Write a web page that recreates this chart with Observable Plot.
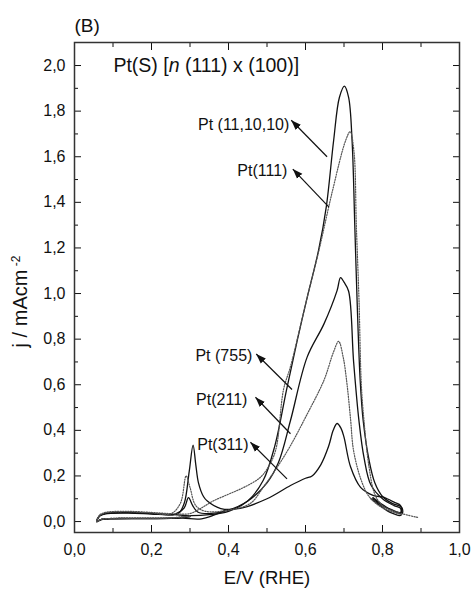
<!DOCTYPE html>
<html><head><meta charset="utf-8">
<script src="https://cdn.jsdelivr.net/npm/d3@7"></script>
<script src="https://cdn.jsdelivr.net/npm/@observablehq/plot@0.6"></script>
<style>body{margin:0;background:#fff;}</style>
</head><body><div id="chart"></div>
<script>
// ---- tick values ----
const xMajor = [0, 0.2, 0.4, 0.6, 0.8, 1.0];
const xMinor = [0.1, 0.3, 0.5, 0.7, 0.9];
const yMajor = [0, 0.2, 0.4, 0.6, 0.8, 1.0, 1.2, 1.4, 1.6, 1.8, 2.0];
const yMinor = [0.1, 0.3, 0.5, 0.7, 0.9, 1.1, 1.3, 1.5, 1.7, 1.9];

// ---- series (E / V, j / mA cm-2) ----
const pt111010 = [
  [0.30,0.022],[0.25,0.014],[0.18,0.013],[0.10,0.013],[0.07,0.010],[0.058,0.0],
  [0.065,0.025],[0.08,0.036],[0.14,0.040],[0.20,0.036],[0.26,0.030],[0.30,0.026],
  [0.35,0.030],[0.40,0.045],[0.45,0.09],[0.49,0.18],[0.52,0.33],[0.551,0.58],
  [0.578,0.79],[0.604,0.98],[0.634,1.19],[0.654,1.38],[0.673,1.67],[0.688,1.86],
  [0.701,1.91],[0.712,1.86],[0.721,1.67],[0.728,1.30],[0.734,0.97],[0.742,0.62],
  [0.750,0.44],[0.765,0.27],[0.78,0.17],[0.80,0.11],[0.825,0.08],[0.85,0.062],
  [0.851,0.035],[0.83,0.045],[0.80,0.07],[0.775,0.10]
];
const pt111 = [
  [0.30,0.024],[0.25,0.016],[0.18,0.015],[0.10,0.014],[0.07,0.010],[0.058,0.0],
  [0.065,0.028],[0.08,0.040],[0.13,0.045],[0.20,0.040],[0.26,0.034],[0.30,0.035],
  [0.33,0.06],[0.36,0.09],[0.40,0.12],[0.44,0.15],[0.48,0.19],[0.50,0.23],
  [0.522,0.31],[0.543,0.58],[0.561,0.68],[0.604,0.98],[0.635,1.19],[0.67,1.45],
  [0.704,1.67],[0.716,1.71],[0.726,1.62],[0.732,1.30],[0.739,0.97],[0.745,0.60],
  [0.752,0.44],[0.765,0.24],[0.78,0.12],[0.80,0.07],[0.84,0.04],[0.894,0.017]
];
const pt755 = [
  [0.30,0.022],[0.25,0.015],[0.18,0.014],[0.10,0.013],[0.07,0.010],[0.058,0.0],
  [0.065,0.024],[0.08,0.035],[0.14,0.039],[0.20,0.035],[0.26,0.032],[0.285,0.06],
  [0.296,0.105],[0.307,0.07],[0.32,0.042],[0.35,0.035],[0.40,0.05],[0.45,0.09],
  [0.50,0.17],[0.53,0.26],[0.561,0.443],[0.604,0.72],[0.648,0.867],[0.682,1.013],
  [0.691,1.07],[0.700,1.05],[0.712,1.01],[0.725,0.70],[0.739,0.44],[0.752,0.28],
  [0.77,0.16],[0.80,0.10],[0.83,0.07],[0.847,0.058],[0.848,0.028],[0.82,0.04],[0.79,0.075],[0.77,0.10]
];
const pt211 = [
  [0.30,0.024],[0.25,0.016],[0.18,0.015],[0.10,0.014],[0.07,0.010],[0.058,0.0],
  [0.065,0.026],[0.08,0.038],[0.13,0.043],[0.20,0.038],[0.25,0.034],[0.275,0.08],
  [0.29,0.20],[0.30,0.15],[0.315,0.07],[0.34,0.045],[0.40,0.05],[0.457,0.08],
  [0.49,0.15],[0.527,0.24],[0.56,0.33],[0.60,0.457],[0.648,0.62],[0.672,0.74],
  [0.686,0.79],[0.698,0.72],[0.708,0.60],[0.717,0.45],[0.725,0.31],[0.745,0.18],
  [0.765,0.11],[0.80,0.06],[0.85,0.03]
];
const pt311 = [
  [0.39,0.048],[0.33,0.012],[0.28,0.015],[0.20,0.013],[0.10,0.012],[0.07,0.008],[0.058,0.0],
  [0.065,0.024],[0.08,0.034],[0.14,0.037],[0.20,0.033],[0.25,0.030],[0.27,0.035],
  [0.285,0.08],[0.298,0.22],[0.308,0.335],[0.315,0.25],[0.322,0.17],[0.335,0.11],
  [0.345,0.09],[0.38,0.057],[0.43,0.058],[0.50,0.10],[0.561,0.158],[0.60,0.19],
  [0.617,0.20],[0.64,0.25],[0.66,0.33],[0.672,0.40],[0.682,0.43],[0.692,0.41],
  [0.70,0.37],[0.717,0.24],[0.743,0.15],[0.777,0.114],[0.80,0.108],[0.812,0.10],
  [0.83,0.085],[0.847,0.07],[0.847,0.04],[0.82,0.055],[0.795,0.08],[0.775,0.105]
];

const seriesNames = ["Pt (11,10,10)", "Pt(111)", "Pt (755)", "Pt(211)", "Pt(311)"];
const seriesData = [pt111010, pt111, pt755, pt211, pt311];
const seriesDotted = [false, true, false, true, false];

// ---- annotations: label end point, arrow tail (on curve) and head (near label) ----
const labelE = [0.558, 0.553, 0.462, 0.449, 0.452];
const labelJ = [1.741, 1.539, 0.728, 0.535, 0.338];
const arrowTailE = [0.656, 0.661, 0.565, 0.561, 0.552];
const arrowTailJ = [1.600, 1.379, 0.579, 0.385, 0.187];
const arrowHeadE = [0.563, 0.567, 0.472, 0.470, 0.457];
const arrowHeadJ = [1.760, 1.546, 0.735, 0.545, 0.348];

const titleParts = ["Pt(S) [", "n", " (111) x (100)]"];
const titlePos = [0.101, 2.0];
const panelLabel = "(B)";
const xLabel = "E/V (RHE)";
const yLabelParts = ["j / mAcm", " -2"];

// ---- build tables ----
const rows = seriesData.flatMap((pts, s) =>
  pts.map(([E, j], i) => ({series: seriesNames[s], dotted: seriesDotted[s], E, j, i})));
const labels = seriesNames.map((name, k) => ({name, E: labelE[k], j: labelJ[k]}));
const arrows = seriesNames.map((name, k) => ({
  x1: arrowTailE[k], y1: arrowTailJ[k], x2: arrowHeadE[k], y2: arrowHeadJ[k]}));

const fmt = d => d.toFixed(1).replace(".", ",");
const blank = () => "";

function filledArrow(color) {
  const ns = "http://www.w3.org/2000/svg";
  const m = document.createElementNS(ns, "marker");
  m.setAttribute("viewBox", "-10 -5 10 10");
  m.setAttribute("markerWidth", "10");
  m.setAttribute("markerHeight", "10");
  m.setAttribute("markerUnits", "userSpaceOnUse");
  m.setAttribute("orient", "auto");
  m.setAttribute("refX", "0");
  m.setAttribute("refY", "0");
  const p = document.createElementNS(ns, "path");
  p.setAttribute("d", "M0,0L-10,-3.6L-10,3.6Z");
  p.setAttribute("fill", color);
  p.setAttribute("stroke", "none");
  m.appendChild(p);
  return m;
}

const ink = "#111";
const chart = Plot.plot({
  width: 473, height: 589,
  marginLeft: 74, marginRight: 14, marginTop: 42, marginBottom: 57,
  x: {domain: [0, 1]},
  y: {domain: [-0.048, 2.101]},
  style: {fontFamily: "'Liberation Sans', Arial, sans-serif", fontSize: "16px", color: ink, background: "#fff"},
  marks: [
    Plot.axisX(xMajor, {anchor: "bottom", tickSize: -7, tickPadding: 18, tickFormat: fmt, label: null, fontSize: 16}),
    Plot.axisX(xMinor, {anchor: "bottom", tickSize: -4, tickFormat: blank, label: null}),
    Plot.axisX(xMajor, {anchor: "top", tickSize: -7, tickFormat: blank, label: null}),
    Plot.axisX(xMinor, {anchor: "top", tickSize: -4, tickFormat: blank, label: null}),
    Plot.axisY(yMajor, {anchor: "left", tickSize: -7, tickPadding: 16, tickFormat: fmt, label: null, fontSize: 16}),
    Plot.axisY(yMinor, {anchor: "left", tickSize: -4, tickFormat: blank, label: null}),
    Plot.axisY(yMajor, {anchor: "right", tickSize: -7, tickFormat: blank, label: null}),
    Plot.axisY(yMinor, {anchor: "right", tickSize: -4, tickFormat: blank, label: null}),
    Plot.frame({stroke: "#333", strokeWidth: 1.5}),
    Plot.line(rows.filter(d => !d.dotted), {x: "E", y: "j", z: "series", stroke: ink, strokeWidth: 1.3, curve: "catmull-rom"}),
    Plot.line(rows.filter(d => d.dotted), {x: "E", y: "j", z: "series", stroke: "#555", strokeWidth: 1.2, strokeDasharray: "1.2,1.4", curve: "catmull-rom"}),
    Plot.link(arrows, {x1: "x1", y1: "y1", x2: "x2", y2: "y2", stroke: ink, strokeWidth: 1.2, markerEnd: filledArrow}),
    Plot.text(labels, {x: "E", y: "j", text: "name", textAnchor: "end", fontSize: 16, fill: ink}),
    Plot.text([titleParts.join("")], {x: () => titlePos[0], y: () => titlePos[1], textAnchor: "start", fontSize: 19.5, fill: ink}),
    Plot.text([panelLabel], {frameAnchor: "top-left", lineAnchor: "middle", dy: -17, textAnchor: "start", fontSize: 19, fill: ink}),
    Plot.text([xLabel], {frameAnchor: "bottom", lineAnchor: "middle", dy: 46, fontSize: 18.5, fill: ink}),
    Plot.text([yLabelParts.join("")], {frameAnchor: "left", lineAnchor: "middle", textAnchor: "middle", dx: -54, dy: 14, rotate: -90, fontSize: 20, fill: ink})
  ]
});

// rich text: italic n in the title, superscript in the y label
const svgNS = "http://www.w3.org/2000/svg";
chart.querySelectorAll("text").forEach(t => {
  if (t.textContent === titleParts.join("")) {
    t.textContent = "";
    titleParts.forEach((part, k) => {
      const ts = document.createElementNS(svgNS, "tspan");
      ts.textContent = part;
      if (k === 1) ts.setAttribute("font-style", "italic");
      t.appendChild(ts);
    });
  } else if (t.textContent === yLabelParts.join("")) {
    t.textContent = "";
    const a = document.createElementNS(svgNS, "tspan");
    a.textContent = yLabelParts[0];
    const b = document.createElementNS(svgNS, "tspan");
    b.textContent = yLabelParts[1];
    b.setAttribute("dy", "-0.6em");
    b.setAttribute("font-size", "12px");
    t.appendChild(a); t.appendChild(b);
  }
});
document.getElementById("chart").appendChild(chart);
</script>
</body></html>
